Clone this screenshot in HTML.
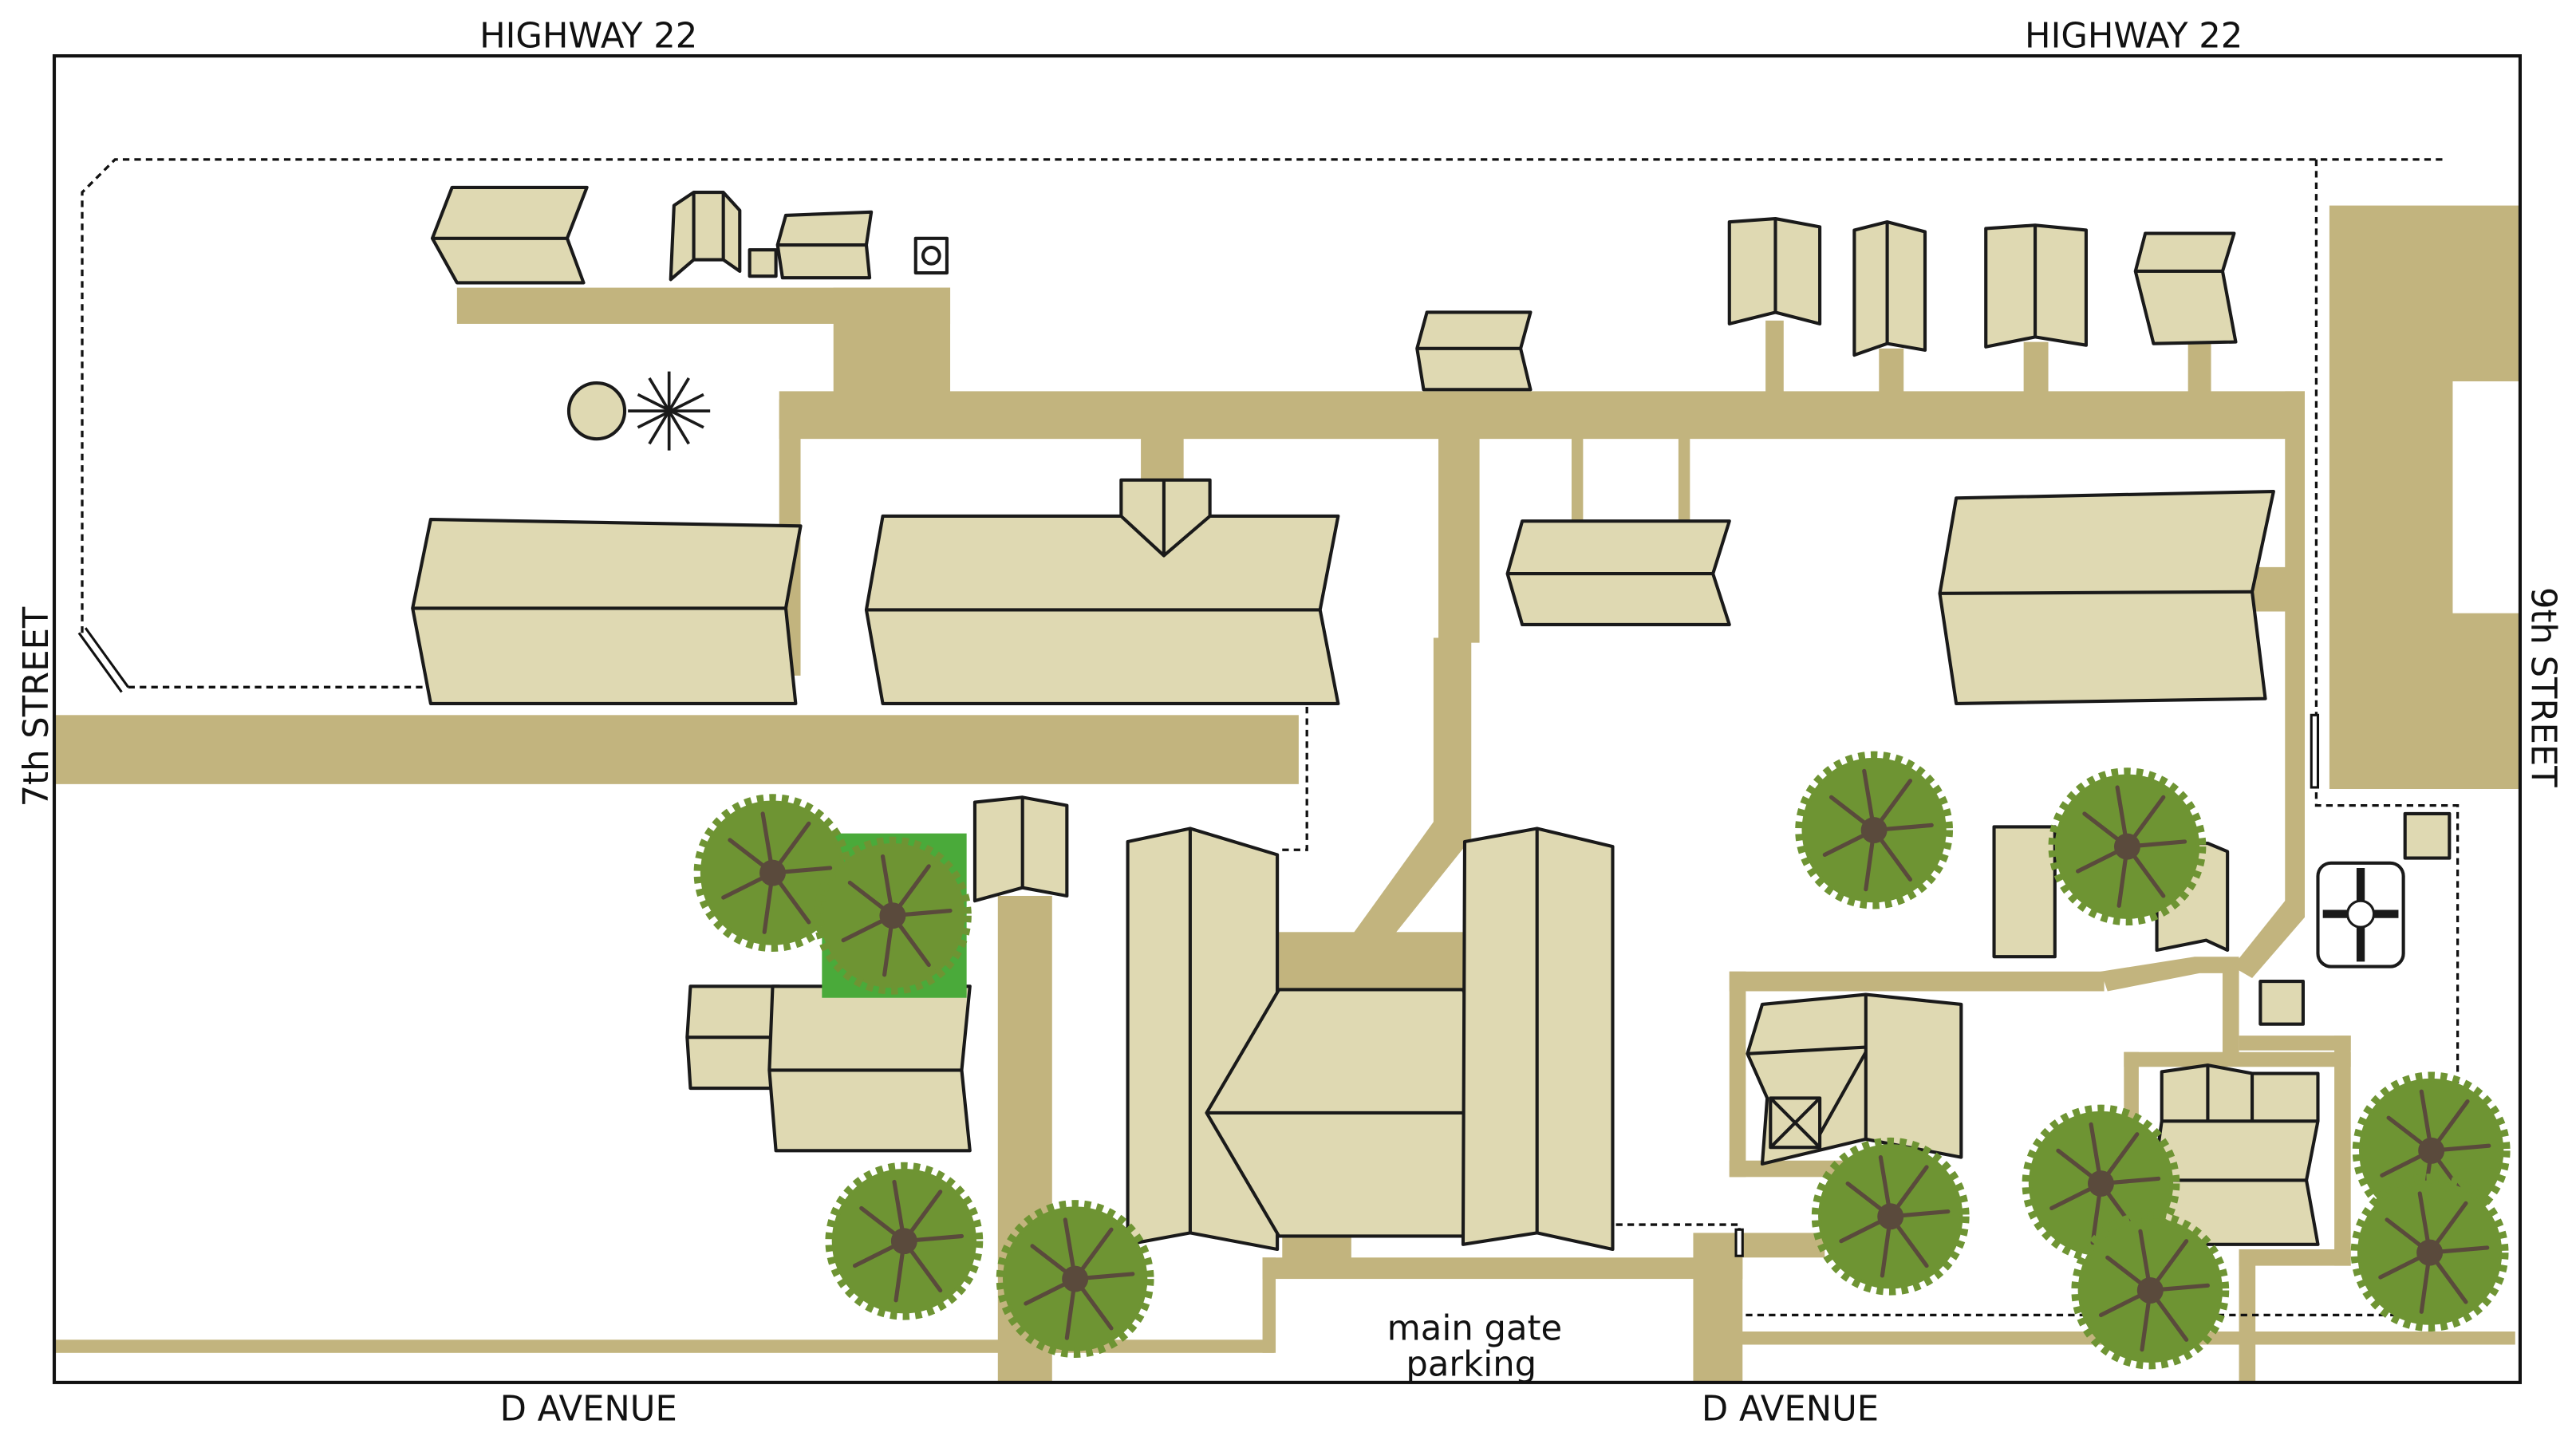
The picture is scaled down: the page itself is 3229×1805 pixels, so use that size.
<!DOCTYPE html>
<html><head><meta charset="utf-8">
<style>
html,body{margin:0;padding:0;background:#fff;}
svg{display:block;}
text{font-family:"DejaVu Sans","Liberation Sans",sans-serif;fill:#111;}
</style></head><body>
<svg width="3229" height="1805" viewBox="0 0 1567 876" preserveAspectRatio="none" xmlns="http://www.w3.org/2000/svg">
<defs>
<g id="tree">
<circle r="44" fill="#6e9433"/>
<circle r="45" fill="none" stroke="#6e9433" stroke-width="6" stroke-dasharray="4 3.5"/>
<g stroke="#5a4a3c" stroke-width="2.5" stroke-linecap="round">
<line x1="0" y1="0" x2="-6" y2="-36"/><line x1="0" y1="0" x2="22" y2="-30"/>
<line x1="0" y1="0" x2="35" y2="-3"/><line x1="0" y1="0" x2="22" y2="30"/>
<line x1="0" y1="0" x2="-5" y2="36"/><line x1="0" y1="0" x2="-30" y2="15"/>
<line x1="0" y1="0" x2="-26" y2="-20"/>
</g>
<circle r="8" fill="#5a4a3c"/>
</g>
</defs>
<rect x="0" y="0" width="1567" height="876" fill="#fff"/>
<g fill="#c2b47e">
<rect x="278" y="175" width="300" height="22"/>
<rect x="507" y="175" width="71" height="70"/>
<rect x="474" y="238" width="928" height="29"/>
<rect x="474" y="243" width="13" height="168"/>
<rect x="694" y="265" width="26" height="30"/>
<rect x="875" y="265" width="25" height="126"/>
<rect x="872" y="388" width="23" height="122"/>
<polygon points="872,500 895,510 843,575 818,575"/>
<rect x="775" y="567" width="115" height="35"/>
<rect x="956" y="265" width="7" height="53"/>
<rect x="1021" y="265" width="7" height="53"/>
<rect x="1074" y="195" width="11" height="45"/>
<rect x="1143" y="212" width="15" height="28"/>
<rect x="1231" y="208" width="15" height="32"/>
<rect x="1331" y="206" width="14" height="34"/>
<rect x="1390" y="238" width="12" height="315"/>
<rect x="1368" y="345" width="34" height="27"/>
<polygon points="1390,548 1402,548 1402,558 1370,595 1358,588"/>
<polygon points="1417,125 1533,125 1533,232 1492,232 1492,373 1533,373 1533,480 1417,480"/>
<rect x="33" y="435" width="757" height="42"/>
<rect x="607" y="545" width="33" height="296"/>
<rect x="33" y="815" width="742" height="8"/>
<rect x="768" y="765" width="8" height="58"/>
<rect x="768" y="765" width="292" height="13"/>
<rect x="780" y="750" width="42" height="17"/>
<rect x="1030" y="750" width="30" height="91"/>
<rect x="1058" y="750" width="52" height="15"/>
<rect x="1058" y="810" width="472" height="8"/>
<rect x="1362" y="760" width="10" height="81"/>
<rect x="1052" y="591" width="228" height="12"/>
<polygon points="1278,591 1335,582 1362,582 1362,592 1338,592 1282,603"/>
<rect x="1052" y="591" width="10" height="125"/>
<rect x="1052" y="706" width="80" height="10"/>
<rect x="1352" y="585" width="10" height="60"/>
<rect x="1292" y="640" width="138" height="9"/>
<rect x="1292" y="640" width="9" height="42"/>
<rect x="1362" y="630" width="68" height="9"/>
<rect x="1420" y="630" width="10" height="140"/>
<rect x="1362" y="760" width="68" height="10"/>
</g>
<rect x="33" y="34" width="1500" height="807" fill="none" stroke="#111" stroke-width="2"/>
<g fill="none" stroke="#111" stroke-width="1.6" stroke-dasharray="4 3">
<polyline points="50,385 50,117 70,97 1487,97"/>
<polyline points="1409,97 1409,490 1495,490 1495,800 1060,800"/>
<polyline points="78,418 260,418"/>
<polyline points="795,430 795,517 779,517"/>
<polyline points="983,745 1058,745 1058,760"/>
</g>
<g stroke="#111" stroke-width="1.5"><line x1="48" y1="385" x2="74" y2="421"/><line x1="52" y1="382" x2="78" y2="418"/>
<rect x="1406" y="435" width="4" height="44" fill="#fff"/><rect x="1056" y="748" width="4" height="16" fill="#fff"/></g>
<g fill="#dfd9b2" stroke="#1a1a1a" stroke-width="2" stroke-linejoin="round">
<polygon points="275,114 357,114 345,145 355,172 278,172 263,145"/><line x1="263" y1="145" x2="345" y2="145"/>
<polygon points="410,125 422,117 440,117 450,128 450,165 440,158 422,158 408,170"/><line x1="422" y1="117" x2="422" y2="158"/><line x1="440" y1="117" x2="440" y2="158"/>
<rect x="456" y="152" width="16" height="16"/>
<polygon points="478,131 530,129 527,149 529,169 476,169 473,149"/><line x1="473" y1="149" x2="527" y2="149"/>
<rect x="557" y="145" width="19" height="21" fill="#fff"/><circle cx="566.5" cy="155.5" r="5" fill="none"/>
<circle cx="363" cy="250" r="17"/>
<polygon points="262,316 487,320 478,370 484,428 262,428 251,370"/><line x1="251" y1="370" x2="478" y2="370"/>
<polygon points="537,314 682,314 682,292 736,292 736,314 814,314 803,371 814,428 537,428 527,371"/><line x1="527" y1="371" x2="803" y2="371"/>
<polyline points="682,314 708,338 736,314" fill="none"/><line x1="708" y1="292" x2="708" y2="338"/>
<polygon points="868,190 931,190 925,212 931,237 866,237 862,212"/><line x1="862" y1="212" x2="925" y2="212"/>
<polygon points="926,317 1052,317 1042,349 1052,380 926,380 917,349"/><line x1="917" y1="349" x2="1042" y2="349"/>
<polygon points="1052,135 1080,133 1107,138 1107,197 1080,190 1052,197"/><line x1="1080" y1="133" x2="1080" y2="190"/>
<polygon points="1128,140 1148,135 1171,141 1171,213 1148,209 1128,216"/><line x1="1148" y1="135" x2="1148" y2="209"/>
<polygon points="1208,139 1238,137 1269,140 1269,210 1238,205 1208,211"/><line x1="1238" y1="137" x2="1238" y2="205"/>
<polygon points="1305,142 1359,142 1352,165 1360,208 1310,209 1299,165"/><line x1="1299" y1="165" x2="1352" y2="165"/>
<polygon points="1190,303 1383,299 1370,360 1378,425 1190,428 1180,361"/><line x1="1180" y1="361" x2="1370" y2="360"/>
<rect x="1213" y="503" width="37" height="79"/>
<polygon points="1312,513 1343,513 1355,518 1355,578 1342,572 1312,578"/>
<rect x="1463" y="495" width="27" height="27"/>
<rect x="1375" y="597" width="26" height="26"/>
<polygon points="593,488 622,485 649,490 649,545 622,540 593,548"/><line x1="622" y1="485" x2="622" y2="540"/>
<polygon points="420,600 474,600 474,662 420,662 418,631"/><line x1="418" y1="631" x2="474" y2="631"/>
<polygon points="470,600 590,600 585,651 590,700 472,700 468,651"/><line x1="468" y1="651" x2="585" y2="651"/>
<polygon points="686,512 724,504 777,520 777,760 724,750 686,757"/><line x1="724" y1="504" x2="724" y2="750"/>
<polygon points="778,602 890,602 918,677 890,752 778,752 734,677"/><line x1="734" y1="677" x2="918" y2="677"/>
<polygon points="891,512 935,504 981,515 981,760 935,750 890,757"/><line x1="935" y1="504" x2="935" y2="750"/>
<polygon points="1072,611 1135,605 1193,611 1193,704 1135,693 1072,708 1075,668 1063,641"/><line x1="1135" y1="605" x2="1135" y2="693"/><line x1="1063" y1="641" x2="1135" y2="637"/><line x1="1135" y1="640" x2="1107" y2="690"/>
<rect x="1077" y="668" width="30" height="30"/><line x1="1077" y1="668" x2="1107" y2="698"/><line x1="1107" y1="668" x2="1077" y2="698"/>
<polygon points="1315,652 1343,648 1370,653 1410,653 1410,682 1403,718 1410,757 1318,757 1310,718 1315,682"/><line x1="1315" y1="682" x2="1410" y2="682"/><line x1="1310" y1="718" x2="1403" y2="718"/><line x1="1343" y1="648" x2="1343" y2="682"/><line x1="1370" y1="653" x2="1370" y2="682"/>
<rect x="1410" y="525" width="52" height="63" rx="8" fill="#fff"/>
</g>
<g stroke="#1a1a1a" stroke-width="5"><line x1="1436" y1="528" x2="1436" y2="585"/><line x1="1413" y1="556" x2="1459" y2="556"/></g>
<circle cx="1436" cy="556" r="8" fill="#fff" stroke="#1a1a1a" stroke-width="1.5"/>
<g stroke="#1a1a1a" stroke-width="1.8"><line x1="388" y1="240" x2="428" y2="260"/><line x1="388" y1="260" x2="428" y2="240"/><line x1="407" y1="226" x2="407" y2="274"/><line x1="382" y1="250" x2="432" y2="250"/><line x1="395" y1="230" x2="419" y2="270"/><line x1="419" y1="230" x2="395" y2="270"/></g>
<rect x="500" y="507" width="88" height="100" fill="#4aaa3a"/>
<use href="#tree" x="470" y="531"/>
<use href="#tree" x="543" y="557"/>
<use href="#tree" x="550" y="755"/>
<use href="#tree" x="654" y="778"/>
<use href="#tree" x="1140" y="505"/>
<use href="#tree" x="1294" y="515"/>
<use href="#tree" x="1150" y="740"/>
<use href="#tree" x="1278" y="720"/>
<use href="#tree" x="1308" y="785"/>
<use href="#tree" x="1479" y="700"/>
<use href="#tree" x="1478" y="762"/>
<g font-size="21" text-anchor="middle">
<text x="358" y="29">HIGHWAY 22</text>
<text x="1298" y="29">HIGHWAY 22</text>
<text x="358" y="864">D AVENUE</text>
<text x="1089" y="864">D AVENUE</text>
<text x="897" y="815">main gate</text>
<text x="895" y="837">parking</text>
<text transform="translate(29,430) rotate(-90)">7th STREET</text>
<text transform="translate(1540,418) rotate(90)">9th STREET</text>
</g>
</svg>
</body></html>
